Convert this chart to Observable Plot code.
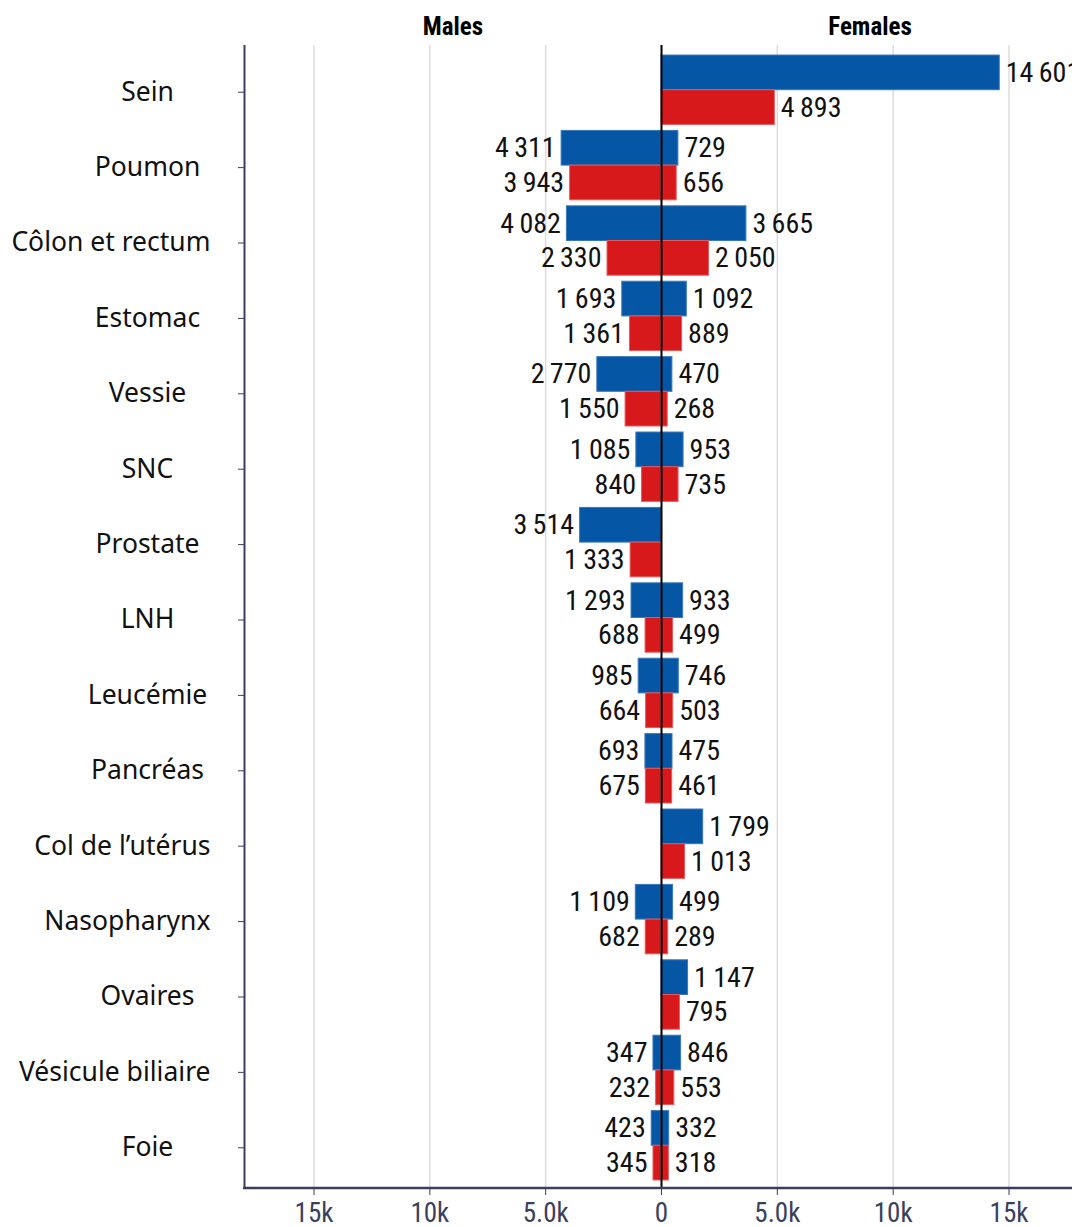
<!DOCTYPE html>
<html>
<head>
<meta charset="utf-8">
<script src="https://cdn.jsdelivr.net/npm/d3@7"></script>
<script src="https://cdn.jsdelivr.net/npm/@observablehq/plot@0.6"></script>
<style>
  html, body { margin: 0; padding: 0; background: #fff; overflow: hidden; }
  #chart svg { display: block; max-width: none !important; }
</style>
</head>
<body>
<div id="chart"></div>
<script>
// Cancer sites, top to bottom
const categories = [
  "Sein", "Poumon", "Côlon et rectum", "Estomac", "Vessie", "SNC", "Prostate",
  "LNH", "Leucémie", "Pancréas", "Col de l’utérus", "Nasopharynx", "Ovaires",
  "Vésicule biliaire", "Foie"
];

// New cases (blue) and deaths (red), by sex; null = not applicable
const maleIncidence   = [null, 4311, 4082, 1693, 2770, 1085, 3514, 1293, 985, 693, null, 1109, null, 347, 423];
const maleMortality   = [null, 3943, 2330, 1361, 1550,  840, 1333,  688, 664, 675, null,  682, null, 232, 345];
const femaleIncidence = [14601, 729, 3665, 1092, 470, 953, null, 933, 746, 475, 1799, 499, 1147, 846, 332];
const femaleMortality = [ 4893, 656, 2050,  889, 268, 735, null, 499, 503, 461, 1013, 289,  795, 553, 318];

const sexes = ["Males", "Females"];
const xTicks = [-15000, -10000, -5000, 0, 5000, 10000, 15000];
const xTickLabels = ["15k", "10k", "5.0k", "0", "5.0k", "10k", "15k"];

// Long form: one row per bar
const rows = [];
categories.forEach((cat, i) => {
  rows.push({cat, sex: "Males",   kind: "inc",  v: maleIncidence[i]});
  rows.push({cat, sex: "Males",   kind: "mort", v: maleMortality[i]});
  rows.push({cat, sex: "Females", kind: "inc",  v: femaleIncidence[i]});
  rows.push({cat, sex: "Females", kind: "mort", v: femaleMortality[i]});
});
const bars = rows.filter(d => d.v != null);
const signed = d => d.sex === "Males" ? -d.v : d.v;
const fmt = v => d3.format(",")(v).replace(/,/g, "\u2009");

const BLUE = "#0556a4", RED = "#d8191b", NAVY = "#3a3f5e";
const NUM_FONT = "'Liberation Sans Narrow', 'Roboto Condensed', 'Arial Narrow', sans-serif";
const CAT_FONT = "'Noto Sans', 'Open Sans', sans-serif";

// Layout
const width = 1078, height = 1227;
const mL = 244, mR = 0, mT = 45, mB = 39;
const yPad = 0.08, yInsetTop = 4, yInsetBottom = 2;
const xMax = 18000;

// Half of each category band: incidence on top, deaths below
const step = (height - mT - mB - yInsetTop - yInsetBottom) / (categories.length + yPad);
const half = step * (1 - yPad) / 2;

const sel = (sex, kind) => bars.filter(d => d.sex === sex && d.kind === kind);
const numText = (sex, kind) => Plot.text(sel(sex, kind), {
  x: signed, y: "cat", text: d => fmt(d.v),
  dy: (kind === "inc" ? -1 : 1) * half / 2,
  dx: sex === "Males" ? -6 : 6,
  textAnchor: sex === "Males" ? "end" : "start",
  fontSize: 28, fontFamily: NUM_FONT, fill: "#111"
});

const chart = Plot.plot({
  width, height,
  marginLeft: mL, marginRight: mR, marginTop: mT, marginBottom: mB,
  style: {background: "#fff", fontFamily: NUM_FONT, maxWidth: "none"},
  x: {domain: [-xMax, xMax]},
  y: {domain: categories, padding: yPad, round: false, insetTop: yInsetTop, insetBottom: yInsetBottom, label: null},
  marks: [
    Plot.gridX(xTicks.filter(t => t !== 0), {stroke: "#dcdcdc", strokeOpacity: 1, strokeWidth: 1.5}),
    // bars
    Plot.barX(bars.filter(d => d.kind === "inc"), {x1: 0, x2: signed, y: "cat", fill: BLUE,
      stroke: "#3a78bd", strokeWidth: 1, insetBottom: half}),
    Plot.barX(bars.filter(d => d.kind === "mort"), {x1: 0, x2: signed, y: "cat", fill: RED,
      stroke: "#e5595a", strokeWidth: 1, insetTop: half}),
    // value labels
    numText("Males", "inc"),
    numText("Males", "mort"),
    numText("Females", "inc"),
    numText("Females", "mort"),
    // zero line and left axis line
    Plot.ruleX([0], {stroke: "#000", strokeWidth: 2}),
    Plot.ruleX([-xMax], {stroke: NAVY, strokeWidth: 2}),
    // side headers
    Plot.text(sexes, {x: d => d === "Males" ? -xMax / 2 : xMax / 2, frameAnchor: "top", dy: -19, text: d => d,
      fontSize: 25, fontWeight: "bold", fontFamily: NUM_FONT, fill: "#000", lineAnchor: "middle"}),
    // axes
    Plot.axisY({tickSize: 6, tickPadding: 91, textAnchor: "middle", dy: 2, fontSize: 26.5, fontFamily: CAT_FONT,
      stroke: NAVY, fill: "#111", label: null}),
    Plot.axisX({ticks: xTicks, tickFormat: d => xTickLabels[xTicks.indexOf(d)], tickSize: 7, tickPadding: 7,
      fontSize: 27, fontFamily: NUM_FONT, color: NAVY, label: null})
  ]
});

document.getElementById("chart").appendChild(chart);

// Bottom axis line
const svg = d3.select(chart.tagName.toLowerCase() === "svg" ? chart : chart.querySelector("svg"));
svg.append("line")
  .attr("x1", mL - 1).attr("x2", width)
  .attr("y1", height - mB).attr("y2", height - mB)
  .attr("stroke", NAVY).attr("stroke-width", 2.5);

// Keep long category names clear of the axis: cap their right edge
const labelCenter = mL - 6 - 91, labelRightLimit = 210;
svg.selectAll('g[aria-label="y-axis tick label"] text').each(function () {
  const w = this.getComputedTextLength();
  const shift = Math.min(0, labelRightLimit - (labelCenter + w / 2));
  if (shift < 0) {
    const t = this.getAttribute("transform") || "";
    this.setAttribute("transform", `translate(${shift},0) ${t}`);
  }
});
</script>
</body>
</html>
